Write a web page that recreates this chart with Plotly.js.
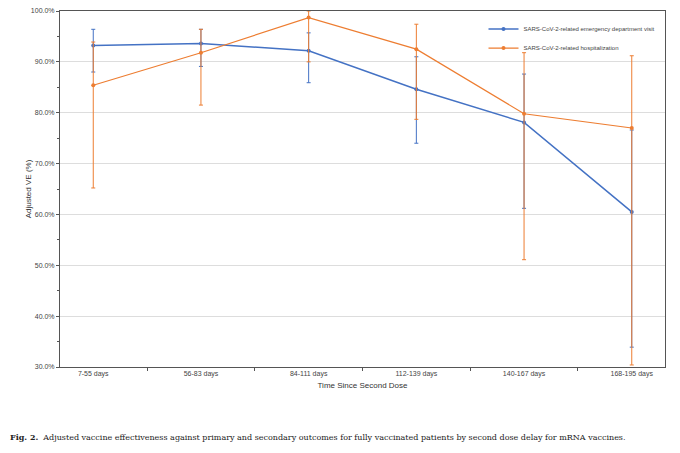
<!DOCTYPE html>
<html><head><meta charset="utf-8">
<script src="https://cdn.plot.ly/plotly-3.0.1.min.js"></script>
<style>body{margin:0;background:#fff}#c{width:680px;height:453px}</style>
</head><body><div id="c"></div>
<script>
const periods = ['7-55 days', '56-83 days', '84-111 days', '112-139 days', '140-167 days', '168-195 days'];
const edVE = [93.2, 93.6, 92.2, 84.6, 78.1, 60.5];
const edHi = [96.4, 96.4, 95.7, 91.0, 87.6, 76.6];
const edLo = [88.0, 89.1, 85.9, 74.0, 61.2, 33.9];
const hospVE = [85.4, 91.8, 98.7, 92.5, 79.8, 77.0];
const hospHi = [93.9, 96.4, 100.0, 97.4, 91.8, 91.2];
const hospLo = [65.2, 81.5, 90.0, 78.7, 51.1, 30.4];

const err = (v, hi, lo, col) => ({
    type: 'data', symmetric: false,
    array: hi.map((h, i) => h - v[i]),
    arrayminus: lo.map((l, i) => v[i] - l),
    color: col, thickness: 1, width: 2
});
const blue = '#4472c4', orange = '#ed7d31';
const traces = [
    {x: periods, y: edVE, type: 'scatter', mode: 'lines+markers', name: 'SARS-CoV-2-related emergency department visit',
     line: {color: blue, width: 1.5}, marker: {size: 4}, error_y: err(edVE, edHi, edLo, blue)},
    {x: periods, y: hospVE, type: 'scatter', mode: 'lines+markers', name: 'SARS-CoV-2-related hospitalization',
     line: {color: orange, width: 1.2}, marker: {size: 4}, error_y: err(hospVE, hospHi, hospLo, orange)}
];
const layout = {
    width: 680, height: 453,
    margin: {l: 60, r: 15, t: 11, b: 86},
    font: {family: 'Liberation Sans, Arial', size: 7, color: '#444'},
    showlegend: true,
    legend: {x: 0.7, y: 0.99, bgcolor: 'rgba(0,0,0,0)', font: {size: 6}},
    xaxis: {title: {text: 'Time Since Second Dose', font: {size: 8, color: '#333'}, standoff: 4},
            showline: true, linecolor: '#555', mirror: true, ticks: 'outside', ticklen: 3,
            tickson: 'boundaries', showgrid: false, tickcolor: '#555'},
    yaxis: {title: {text: 'Adjusted VE (%)', font: {size: 8, color: '#333'}}, range: [30, 100], dtick: 10,
            ticksuffix: '.0%', showline: true, linecolor: '#555', mirror: true, gridcolor: '#ddd',
            ticks: 'outside', ticklen: 3, tickcolor: '#555', minor: {ticks: 'outside', ticklen: 2, dtick: 5}},
    annotations: [{
        xref: 'paper', yref: 'paper', x: -0.086, y: -0.197, xanchor: 'left', yanchor: 'middle', showarrow: false,
        text: '<b>Fig. 2.</b>  Adjusted vaccine effectiveness against primary and secondary outcomes for fully vaccinated patients by second dose delay for mRNA vaccines.',
        font: {family: 'DejaVu Serif, serif', size: 8, color: '#222'}
    }]
};
Plotly.newPlot('c', traces, layout, {displayModeBar: false});
</script></body></html>
